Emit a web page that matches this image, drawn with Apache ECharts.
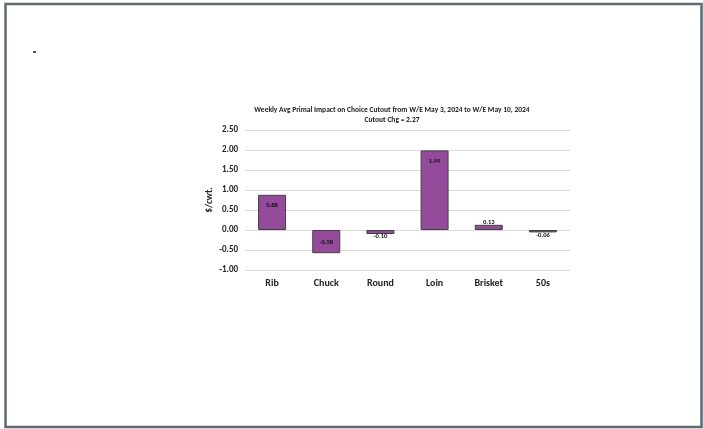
<!DOCTYPE html>
<html><head><meta charset="utf-8">
<script src="https://cdn.jsdelivr.net/npm/echarts@6/dist/echarts.min.js"></script>
<style>html,body{margin:0;padding:0;background:#fff}#c{width:703px;height:429px}</style>
</head><body><div id="c"></div>
<script>
const categories = ['Rib','Chuck','Round','Loin','Brisket','50s'];
const values = [0.88,-0.58,-0.10,1.99,0.13,-0.06];
const yTicks = [-1.00,-0.50,0.00,0.50,1.00,1.50,2.00,2.50];
const titleText = 'Weekly Avg Primal Impact on Choice Cutout from W/E May 3, 2024 to W/E May 10, 2024';
const subtitleText = 'Cutout Chg = 2.27';
const yName = '$/cwt.';

const font = 'Calibri, Carlito, "Open Sans", "Liberation Sans", sans-serif';
const chart = echarts.init(document.getElementById('c'), null, {renderer:'canvas'});
const data = values.map(v => {
  let pos;
  if (Math.abs(v) > 0.3) pos = v > 0 ? 'insideTop' : 'insideBottom';
  else pos = v >= 0 ? 'top' : 'bottom';
  return {value: v, label: {position: pos, distance: Math.abs(v) > 0.3 ? 7 : -1}};
});
chart.setOption({
  animation:false,
  backgroundColor:'#fff',
  title:{text:titleText, subtext:subtitleText, left:387, top:101, textAlign:'center', itemGap:2,
    textStyle:{fontFamily:font, fontSize:7.5, fontWeight:'bold', color:'#222'},
    subtextStyle:{fontFamily:font, fontSize:7.5, fontWeight:'bold', color:'#222'}},
  grid:{left:245, right:133, top:130, bottom:159},
  xAxis:{type:'category', data:categories,
    axisLine:{show:false, onZero:false}, axisTick:{show:false},
    axisLabel:{margin:8, fontFamily:font, fontSize:10, fontWeight:'bold', color:'#222'}},
  yAxis:{type:'value', min:-1, max:2.5, interval:0.5,
    name:yName, nameLocation:'middle', nameGap:30, nameRotate:90,
    nameTextStyle:{fontFamily:font, fontSize:9.5, fontWeight:'bold', color:'#222'},
    axisLabel:{fontFamily:font, fontSize:9, fontWeight:'bold', color:'#222', margin:7,
      formatter: v => v.toFixed(2)},
    splitLine:{lineStyle:{color:'#d9d9d9', width:1}},
    axisLine:{show:false}, axisTick:{show:false}},
  series:[{type:'bar', data:data, barWidth:28,
    itemStyle:{color:'#944b9c', borderColor:'#404040', borderWidth:1},
    label:{show:true, fontFamily:font, fontSize:6.5, fontWeight:'bold', color:'#111', formatter: p => p.value.toFixed(2)}}],
  graphic:[
    {type:'rect', shape:{x:5.5, y:4, width:696, height:423}, style:{fill:'none', stroke:'#5f6a73', lineWidth:2.5}},
    {type:'rect', shape:{x:33, y:51, width:3, height:2}, style:{fill:'#555'}}
  ]
});
</script></body></html>
